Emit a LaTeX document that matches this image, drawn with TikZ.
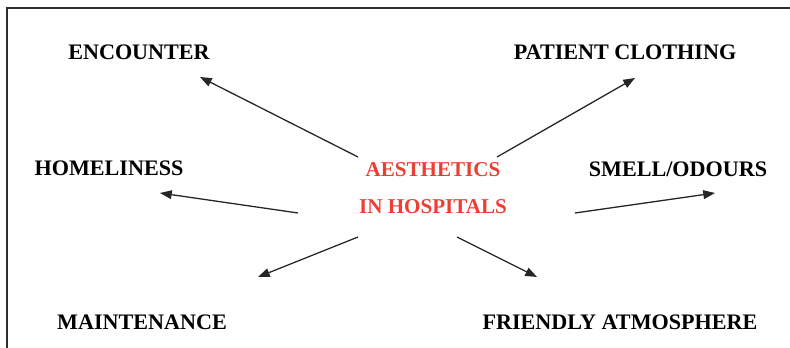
\documentclass[tikz,border=0pt]{standalone}
\usepackage{fontspec}
\setmainfont{Liberation Serif}
\usetikzlibrary{arrows.meta}
\definecolor{hubred}{RGB}{236,62,52}
\definecolor{framegray}{RGB}{45,45,45}
\tikzset{
	item/.style={font=\bfseries\fontsize{18.9}{22}\selectfont, inner sep=0pt},
	pointer/.style={-{Triangle[length=10pt,width=7.5pt]}, line width=1.1pt, black!85},
}
\begin{document}
\begin{tikzpicture}[x=0.03cm,y=-0.03cm]
	\useasboundingbox (0,0) rectangle (790,348);
	% frame (top and left only)
		\draw[framegray, line width=2pt] (790,8) -- (7,8) -- (7,348);
	% centre
		\node[item, text=hubred, align=center, font=\bfseries\fontsize{18}{32}\selectfont] (hub) at (433,188) {AESTHETICS\\IN HOSPITALS};
	% the six aspects
		\node[item] (enc) at (139,52) {ENCOUNTER};
		\node[item] (cloth) at (625,52) {PATIENT CLOTHING};
		\node[item] (home) at (109,168) {HOMELINESS};
		\node[item] (smell) at (678,169) {SMELL/ODOURS};
		\node[item] (maint) at (142,322) {MAINTENANCE};
		\node[item] (friendly) at (620,322) {FRIENDLY ATMOSPHERE};
	% arrow ends
		\coordinate (encFrom) at (358,157);  \coordinate (encTo) at (200,77);
		\coordinate (clothFrom) at (497,157); \coordinate (clothTo) at (635,78);
		\coordinate (homeFrom) at (298,213); \coordinate (homeTo) at (160,193);
		\coordinate (smellFrom) at (575,213); \coordinate (smellTo) at (715,193);
		\coordinate (maintFrom) at (358,237); \coordinate (maintTo) at (258,277);
		\coordinate (friendlyFrom) at (457,237); \coordinate (friendlyTo) at (537,277);
	% arrows
		\foreach \n in {enc,cloth,home,smell,maint,friendly}
			\draw[pointer] (\n From) -- (\n To);
\end{tikzpicture}
\end{document}
